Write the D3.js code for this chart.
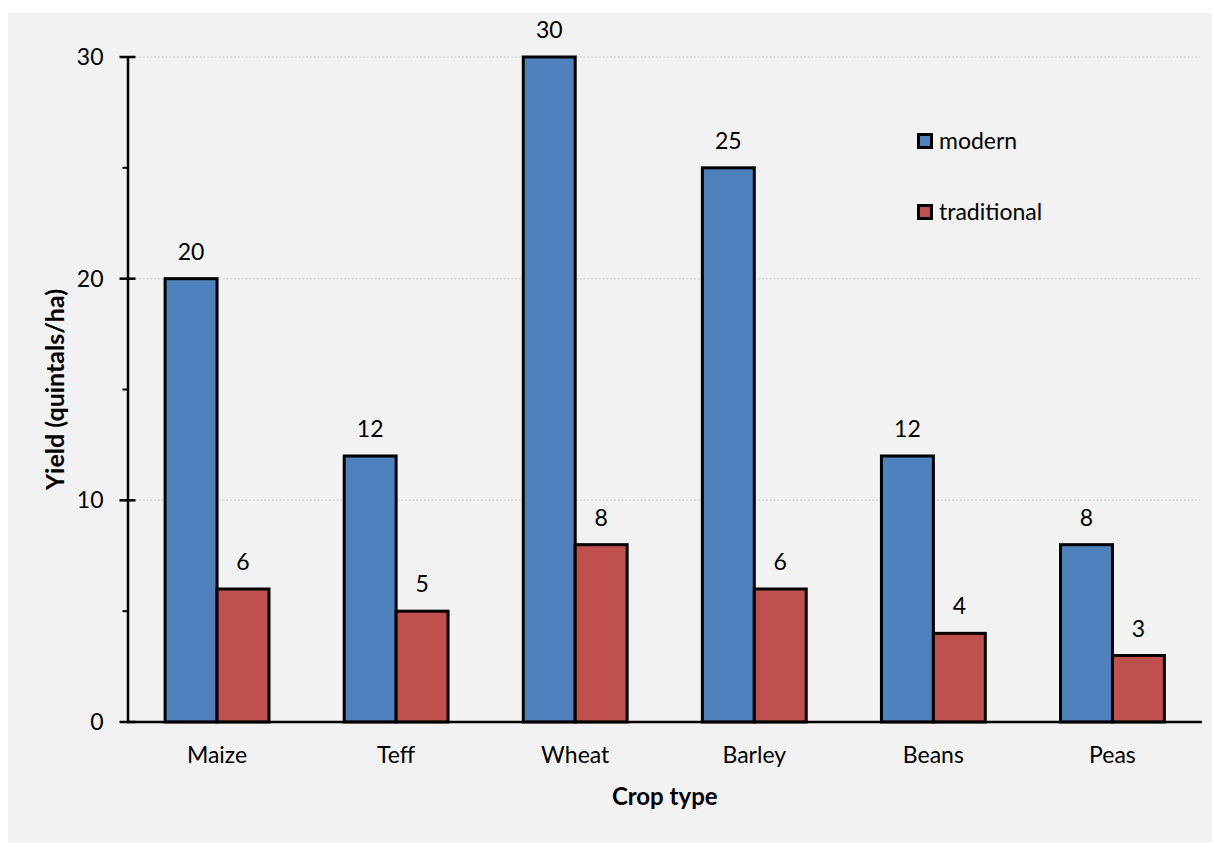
<!DOCTYPE html>
<html>
<head>
<meta charset="utf-8">
<script src="https://cdn.jsdelivr.net/npm/d3@7/dist/d3.min.js"></script>
<style>
  html, body { margin: 0; padding: 0; background: #ffffff; }
  svg { display: block; }
  text { font-family: Lato, "Open Sans", sans-serif; fill: #000; }
</style>
</head>
<body>
<script>
// Crop yields by farming practice
const crops = ["Maize", "Teff", "Wheat", "Barley", "Beans", "Peas"];
const seriesNames = ["modern", "traditional"];
const modern = [20, 12, 30, 25, 12, 8];
const traditional = [6, 5, 8, 6, 4, 3];
const majorTicks = [0, 10, 20, 30];
const minorTicks = [5, 15, 25];
const colors = { modern: "#4f81bd", traditional: "#c0504d" };

const W = 1212, H = 843;
const FS = 23;
const svg = d3.select("body").append("svg").attr("width", W).attr("height", H);

// chart panel
svg.append("rect").attr("x", 8).attr("y", 13).attr("width", W - 8).attr("height", H - 13)
  .attr("fill", "#f2f2f2");

const plotLeft = 127.5, plotRight = 1202, plotTop = 57, plotBottom = 722;

const y = d3.scaleLinear().domain([0, 30]).range([plotBottom, plotTop]);
const x0 = d3.scaleBand().domain(crops).range([plotLeft, plotRight]).paddingInner(0.42).paddingOuter(0.21);
const x1 = d3.scaleBand().domain(seriesNames).range([0, x0.bandwidth()]);

// gridlines
svg.append("g").selectAll("line").data(majorTicks.filter(d => d > 0)).join("line")
  .attr("x1", plotLeft).attr("x2", 1200)
  .attr("y1", d => y(d)).attr("y2", d => y(d))
  .attr("stroke", "#d9d9d9").attr("stroke-width", 1.5).attr("stroke-dasharray", "2,1.8");

// bars
const rows = crops.map((c, i) => ({ crop: c, modern: modern[i], traditional: traditional[i] }));
const groups = svg.append("g").selectAll("g").data(rows).join("g")
  .attr("transform", d => `translate(${x0(d.crop)},0)`);

groups.selectAll("rect").data(d => seriesNames.map(k => ({ key: k, value: d[k] }))).join("rect")
  .attr("x", d => x1(d.key))
  .attr("y", d => y(d.value))
  .attr("width", x1.bandwidth())
  .attr("height", d => y(0) - y(d.value))
  .attr("fill", d => colors[d.key])
  .attr("stroke", "#000").attr("stroke-width", 3);

groups.selectAll("text.val").data(d => seriesNames.map(k => ({ key: k, value: d[k] }))).join("text")
  .attr("class", "val")
  .attr("x", d => x1(d.key) + x1.bandwidth() / 2)
  .attr("y", d => y(d.value) - 19)
  .attr("text-anchor", "middle")
  .attr("font-size", FS)
  .text(d => d.value);

// y axis
const yAxis = d3.axisLeft(y).tickValues(majorTicks).tickSize(0).tickPadding(24).tickFormat(d3.format("d"));
const gy = svg.append("g").attr("transform", `translate(${plotLeft},0)`).call(yAxis);
gy.select(".domain").attr("stroke", "#000").attr("stroke-width", 2.5);
gy.selectAll(".tick text").attr("font-size", FS).attr("font-family", "Lato, 'Open Sans', sans-serif").attr("fill", "#000");

// major and minor tick marks
svg.append("g").selectAll("line").data(majorTicks).join("line")
  .attr("x1", plotLeft - 8).attr("x2", plotLeft + 8)
  .attr("y1", d => y(d)).attr("y2", d => y(d))
  .attr("stroke", "#000").attr("stroke-width", 2.5);
svg.append("g").selectAll("line").data(minorTicks).join("line")
  .attr("x1", plotLeft - 5).attr("x2", plotLeft)
  .attr("y1", d => y(d)).attr("y2", d => y(d))
  .attr("stroke", "#000").attr("stroke-width", 2);

// baseline
svg.append("line").attr("x1", plotLeft).attr("x2", plotRight).attr("y1", y(0)).attr("y2", y(0))
  .attr("stroke", "#000").attr("stroke-width", 2.5);

// x axis labels
const xAxis = d3.axisBottom(x0).tickSize(0).tickPadding(25);
const gx = svg.append("g").attr("transform", `translate(0,${plotBottom})`).call(xAxis);
gx.select(".domain").remove();
gx.selectAll(".tick text").attr("font-size", FS).attr("font-family", "Lato, 'Open Sans', sans-serif").attr("fill", "#000");

// axis titles
svg.append("text").attr("x", (plotLeft + plotRight) / 2).attr("y", 805)
  .attr("text-anchor", "middle").attr("font-size", 24).attr("font-weight", "bold").text("Crop type");
svg.append("text").attr("transform", `translate(64,${(plotTop + plotBottom) / 2}) rotate(-90)`)
  .attr("text-anchor", "middle").attr("font-size", 25).attr("font-weight", "bold").text("Yield (quintals/ha)");

// legend
const legend = svg.append("g").selectAll("g").data(seriesNames).join("g")
  .attr("transform", (d, i) => `translate(925,${141 + i * 71})`);
legend.append("rect").attr("x", -6.5).attr("y", -6.5).attr("width", 13).attr("height", 13)
  .attr("fill", d => colors[d]).attr("stroke", "#000").attr("stroke-width", 3);
legend.append("text").attr("x", 14).attr("y", 8).attr("font-size", FS).text(d => d);
</script>
</body>
</html>
